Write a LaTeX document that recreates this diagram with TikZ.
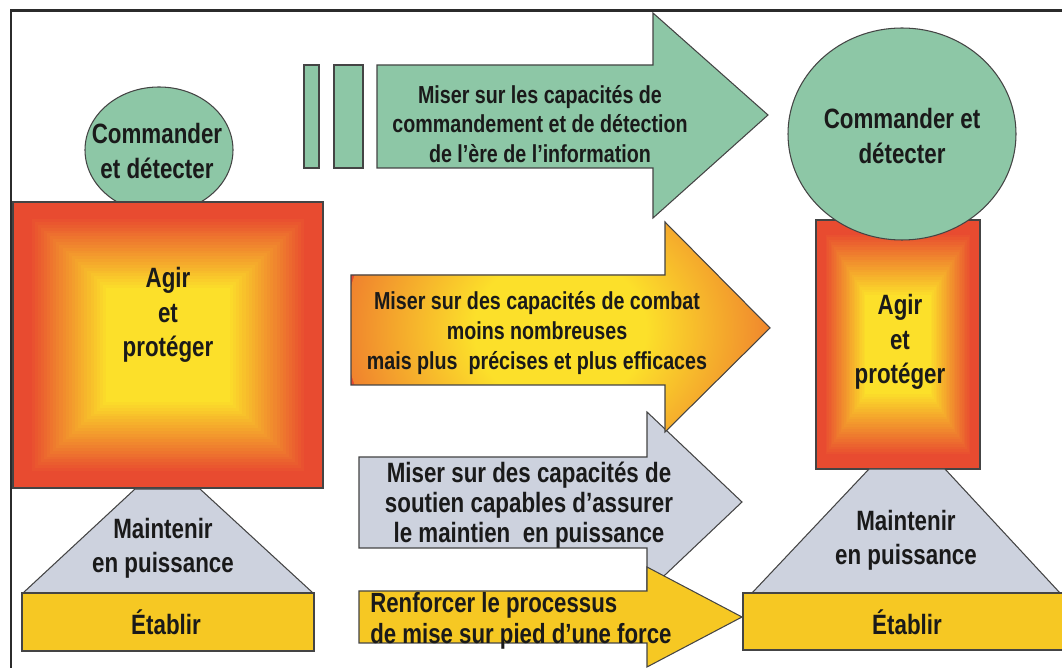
\documentclass[tikz,border=0pt]{standalone}
\usepackage{fontspec}
\setmainfont{Liberation Sans}[FakeStretch=0.8]
\definecolor{cdgreen}{HTML}{8DC7A6}
\definecolor{cdgrey}{HTML}{CDD2DE}
\definecolor{cdyellow}{HTML}{F6C823}
\definecolor{gradred}{HTML}{E84B30}
\definecolor{gradyellow}{HTML}{FCE02A}
\definecolor{edgegrey}{HTML}{444444}
\definecolor{framegrey}{HTML}{2B2B2B}
\definecolor{ink}{HTML}{1A1A1A}
\pgfdeclareradialshading{glow}{\pgfpoint{0bp}{0bp}}{%
  color(0bp)=(gradyellow); color(10bp)=(gradyellow);
  color(34bp)=(gradred); color(50bp)=(gradred)}
\begin{document}
\begin{tikzpicture}[x=0.02cm, y=-0.02cm,
    edge/.style={draw=edgegrey, line width=0.6pt},
    frame/.style={draw=framegrey, line width=1.7pt},
    lbl/.style={font=\bfseries\fontsize{15.9}{19.5}\selectfont, text=ink,
      align=center, inner sep=0pt},
    arrowtxt/.style={lbl, font=\bfseries\fontsize{14}{17}\selectfont}
  ]
  \useasboundingbox (0,0) rectangle (1062,668);
  \draw[frame] (1066,11) -- (11,11) -- (11,672);

  % left column, bottom of the ellipse is hidden by the box
  \draw[edge, fill=cdgreen] (159,150) ellipse [x radius=74, y radius=63];
  \foreach \xa/\ya/\xb/\yb in {13/202/323/488, 816/220/980/469}{
    \foreach \k in {0,...,49}{
      \pgfmathsetmacro{\s}{1-\k/50}
      \pgfmathtruncatemacro{\p}{max(0,min(100,100*(0.6-\k/50)/0.5))}
      \fill[gradred!\p!gradyellow]
        ({(\xa+\xb)/2-\s*(\xb-\xa)/2},{(\ya+\yb)/2-\s*(\yb-\ya)/2}) rectangle
        ({(\xa+\xb)/2+\s*(\xb-\xa)/2},{(\ya+\yb)/2+\s*(\yb-\ya)/2});
    }
    \draw[edge] (\xa,\ya) rectangle (\xb,\yb);
  }
  \draw[edge, fill=cdgreen] (902,134) ellipse [x radius=114, y radius=106];

  % bases
  \draw[edge, fill=cdgrey] (135,489) -- (200,489) -- (313,593) -- (23,593) -- cycle;
  \draw[edge, fill=cdgrey] (869,469) -- (945,469) -- (1060,593) -- (752,593) -- cycle;
  \draw[edge, fill=cdyellow] (22,593) rectangle (314,651);
  \draw[edge, fill=cdyellow] (743,593) rectangle (1066,650);

  % arrows
  \draw[edge, fill=cdgreen] (304,65) rectangle (319,168);
  \draw[edge, fill=cdgreen] (334,65) rectangle (363,168);
  \draw[edge, fill=cdgreen] (377,65) -- (653,65) -- (653,13) -- (768,115)
    -- (653,218) -- (653,168) -- (377,168) -- cycle;
  \draw[edge, fill=cdgrey] (359,457) -- (647,457) -- (647,412) -- (742,502)
    -- (647,592) -- (647,548) -- (359,548) -- cycle;
  \begin{scope}
    \clip (351,275) -- (665,275) -- (665,222) -- (770,328)
      -- (665,432) -- (665,385) -- (351,385) -- cycle;
    \fill[gradred] (340,210) rectangle (780,440);
    \shade[shading=glow] (560,330) ellipse [x radius=215, y radius=185];
  \end{scope}
  \draw[edge] (351,275) -- (665,275) -- (665,222) -- (770,328)
    -- (665,432) -- (665,385) -- (351,385) -- cycle;
  \draw[edge, fill=cdyellow] (359,591) -- (647,591) -- (647,567) -- (742,617)
    -- (647,667) -- (647,643) -- (359,643) -- cycle;

  % labels
  \node[lbl] (cmdL) at (157,151) {Commander\\et détecter};
  \node[lbl] (actL) at (168,315) {Agir\\et\\protéger};
  \node[lbl] (maintL) at (163,548) {Maintenir\\en puissance};
  \node[lbl] (estL) at (166,622) {Établir};
  \node[lbl] (cmdR) at (902,136) {Commander et\\détecter};
  \node[lbl] (actR) at (900,342) {Agir\\et\\protéger};
  \node[lbl] (maintR) at (906,540) {Maintenir\\en puissance};
  \node[lbl] (estR) at (907,622) {Établir};
  \node[arrowtxt] (arrCmd) at (540,124)
    {Miser sur les capacités de\\commandement et de détection\\de l’ère de l’information};
  \node[arrowtxt] (arrAct) at (537,333)
    {Miser sur des capacités de combat\\moins nombreuses\\mais plus~ précises et plus efficaces};
  \node[arrowtxt, font=\bfseries\fontsize{15.9}{17}\selectfont] (arrSup) at (529,505)
    {Miser sur des capacités de\\soutien capables d’assurer\\le maintien~ en puissance};
  \node[arrowtxt, font=\bfseries\fontsize{15.8}{18}\selectfont, align=left,
    anchor=west] (arrGen) at (370,621)
    {Renforcer le processus\\de mise sur pied d’une force};
\end{tikzpicture}
\end{document}
